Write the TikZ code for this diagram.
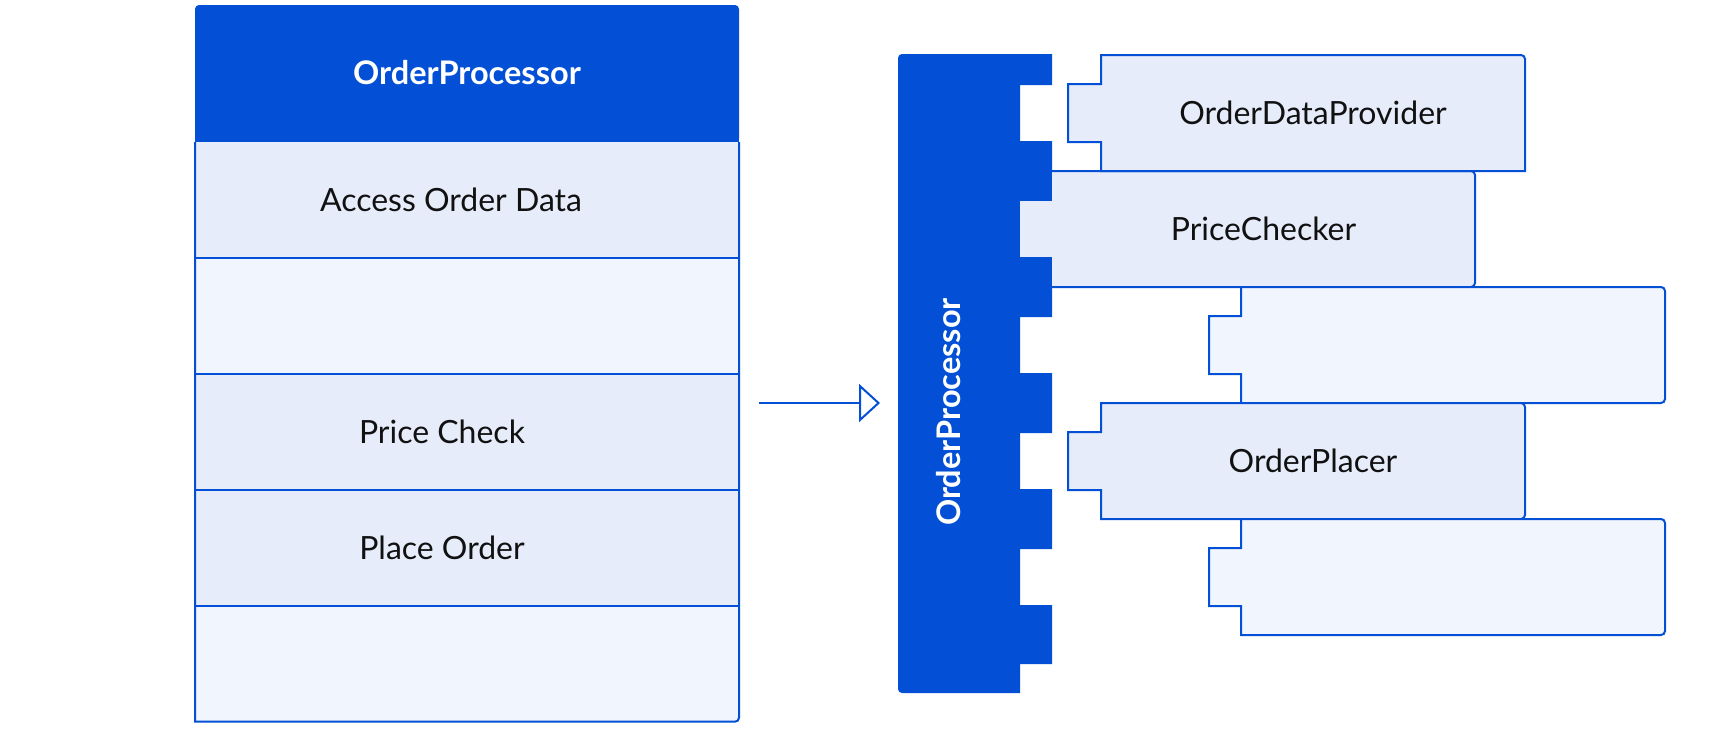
\documentclass[tikz,border=0pt]{standalone}
\usepackage{fontspec}
\setmainfont{Lato}
\usetikzlibrary{arrows.meta}
\definecolor{opblue}{HTML}{0350D6}
\definecolor{rowA}{HTML}{E6ECFA}
\definecolor{rowB}{HTML}{F1F5FE}
\definecolor{txt}{HTML}{111111}
\begin{document}
\begin{tikzpicture}[x=1pt,y=-1pt,
  every node/.style={font=\fontsize{32}{38}\selectfont, text=txt},
  rowbox/.style={rectangle, minimum width=544pt, minimum height=116pt, inner sep=0pt, outer sep=0pt, draw=none},
  edge/.style={draw=opblue, line width=2pt},
  comp/.style={draw=opblue, line width=2pt, line join=miter},
  conn/.style={draw=opblue, line width=2pt, -{Triangle[open, length=21pt, width=38pt]}},
  title/.style={font=\fontsize{32.5}{38}\selectfont\bfseries, text=white}
]
\useasboundingbox (0,0) rectangle (1720,737);
\fill[white] (0,0) rectangle (1720,737);

% ---------- left box ----------
\node[rowbox, minimum height=137.6pt, fill=opblue, rounded corners=4pt] (hdr) at (467,73.8) {};
\fill[opblue] (195,100) rectangle (739,142.6);
\node[title] (hdrt) at (467,73) {OrderProcessor};

\node[rowbox, fill=rowA] (r1) at (467,200.2) {};
\node[rowbox, fill=rowB] (r2) at (467,315.9) {};
\node[rowbox, fill=rowA] (r3) at (467,431.7) {};
\node[rowbox, fill=rowA] (r4) at (467,547.5) {};
\node[rowbox, fill=rowB] (r5) at (467,663.7) {};

\draw[edge] (r2.north west) -- (r2.north east);
\draw[edge] (r3.north west) -- (r3.north east);
\draw[edge] (r4.north west) -- (r4.north east);
\draw[edge] (r5.north west) -- (r5.north east);
\draw[edge] (r1.north west) -- (r5.south west) -- ([xshift=-4pt]r5.south east) arc[start angle=90,end angle=0,radius=4] -- (r1.north east);

\node (t1) at (451,200) {Access Order Data};
\node (t3) at (442,431.5) {Price Check};
\node (t4) at (442,547.5) {Place Order};

% ---------- right block ----------
\fill[opblue] (902,54) -- (1052,54) -- (1052,85) -- (1020,85) -- (1020,141) -- (1052,141)
  -- (1052,201) -- (1020,201) -- (1020,257) -- (1052,257)
  -- (1052,317) -- (1020,317) -- (1020,373) -- (1052,373)
  -- (1052,433) -- (1020,433) -- (1020,489) -- (1052,489)
  -- (1052,549) -- (1020,549) -- (1020,605) -- (1052,605)
  -- (1052,664) -- (1020,664) -- (1020,693) -- (902,693)
  arc[start angle=90,end angle=180,radius=4] -- (898,58)
  arc[start angle=180,end angle=270,radius=4] -- cycle;
\node[title, rotate=90] (rb) at (949,412) {OrderProcessor};

% PriceChecker (plugged in)
\fill[rowA] (1019.5,201) rectangle (1053,257);
\fill[rowA] (1052,171) rectangle (1475,287);
\draw[comp] (1052,171) -- (1471,171) arc[start angle=-90,end angle=0,radius=4]
  -- (1475,283) arc[start angle=0,end angle=90,radius=4] -- (1052,287);
\node (pc) at (1263.5,229) {PriceChecker};

% OrderDataProvider
\filldraw[comp, fill=rowA] (1101,55) -- (1521,55) arc[start angle=-90,end angle=0,radius=4]
  -- (1525,171) -- (1101,171) -- (1101,142) -- (1068,142) -- (1068,84) -- (1101,84) -- cycle;
\node (odp) at (1313,113) {OrderDataProvider};

% blank component 1
\filldraw[comp, fill=rowB] (1241,287) -- (1661,287) arc[start angle=-90,end angle=0,radius=4]
  -- (1665,399) arc[start angle=0,end angle=90,radius=4]
  -- (1241,403) -- (1241,374) -- (1209,374) -- (1209,316) -- (1241,316) -- cycle;

% OrderPlacer
\filldraw[comp, fill=rowA] (1101,403) -- (1521,403) arc[start angle=-90,end angle=0,radius=4]
  -- (1525,515) arc[start angle=0,end angle=90,radius=4]
  -- (1101,519) -- (1101,490) -- (1068,490) -- (1068,432) -- (1101,432) -- cycle;
\node (op) at (1313,461) {OrderPlacer};

% blank component 2
\filldraw[comp, fill=rowB] (1241,519) -- (1661,519) arc[start angle=-90,end angle=0,radius=4]
  -- (1665,631) arc[start angle=0,end angle=90,radius=4]
  -- (1241,635) -- (1241,606) -- (1209,606) -- (1209,548) -- (1241,548) -- cycle;

% ---------- connector ----------
\coordinate (aS) at (759,403);
\coordinate (aE) at (880,403);
\draw[conn] (aS) -- (aE);
\end{tikzpicture}
\end{document}
